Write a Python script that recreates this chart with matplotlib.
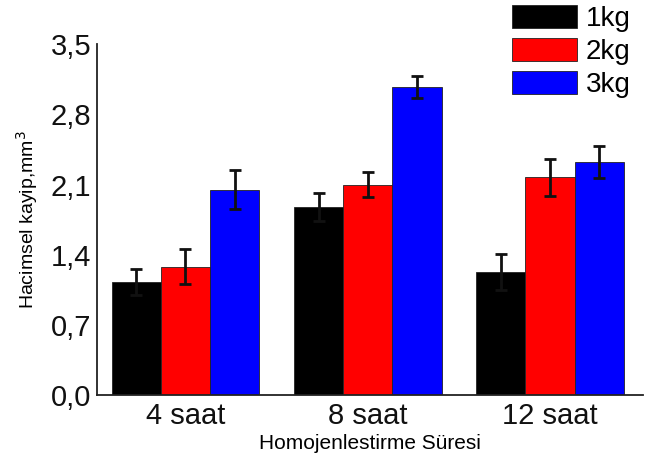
import numpy as np
import matplotlib.pyplot as plt

plt.rcParams['font.family'] = ['Liberation Sans', 'DejaVu Sans']

# ── Data ─────────────────────────────────────────────────────────────────────
groups   = ["4 saat", "8 saat", "12 saat"]
series   = ["1kg", "2kg", "3kg"]
kg1      = [1.13, 1.88, 1.23]
kg2      = [1.28, 2.10, 2.17]
kg3      = [2.05, 3.07, 2.32]
kg1_err  = [0.13, 0.14, 0.18]
kg2_err  = [0.175, 0.12, 0.18]
kg3_err  = [0.19, 0.11, 0.16]
yticks   = [0.0, 0.7, 1.4, 2.1, 2.8, 3.5]
ytick_labels = ["0,0", "0,7", "1,4", "2,1", "2,8", "3,5"]

colors = ["#000000", "#ff0000", "#0000ff"]

fig = plt.figure(figsize=(6.63, 4.59), dpi=100)
ax = fig.add_axes([0.146, 0.139, 0.824, 0.765])

x = np.arange(len(groups))
w = 0.27
handles = []
for i, (vals, errs) in enumerate(zip([kg1, kg2, kg3], [kg1_err, kg2_err, kg3_err])):
    b = ax.bar(x + (i - 1) * w, vals, w, color=colors[i], edgecolor="#222222",
               linewidth=0.6, label=series[i],
               yerr=errs, capsize=4,
               error_kw=dict(ecolor="#111111", elinewidth=2, capthick=2))
    handles.append(b)

ax.set_xlim(-0.486, 2.51)
ax.set_ylim(0, 3.5)
ax.set_xticks(x)
ax.set_xticklabels(groups, fontsize=21)
ax.set_yticks(yticks)
ax.set_yticklabels(ytick_labels, fontsize=21)
ax.tick_params(axis="y", length=0, pad=4, colors="#111111")
ax.tick_params(axis="x", length=0, pad=5, colors="#111111")

for side in ["top", "right"]:
    ax.spines[side].set_visible(False)
for side in ["left", "bottom"]:
    ax.spines[side].set_linewidth(1.3)
    ax.spines[side].set_color("#222222")

ax.set_ylabel("Hacimsel kayip,mm$^3$", fontsize=14, labelpad=8)
ax.set_xlabel("Homojenlestirme Süresi", fontsize=15, va="center")
ax.xaxis.set_label_coords(0.5, -0.138)

fig.legend(handles=handles, labels=series, loc="upper left",
           bbox_to_anchor=(0.743, 1.032), frameon=False, fontsize=20,
           handlelength=2.35, handleheight=0.9, labelspacing=0.22,
           handletextpad=0.3, borderpad=0.2)

fig.savefig("out.png", dpi=100)
